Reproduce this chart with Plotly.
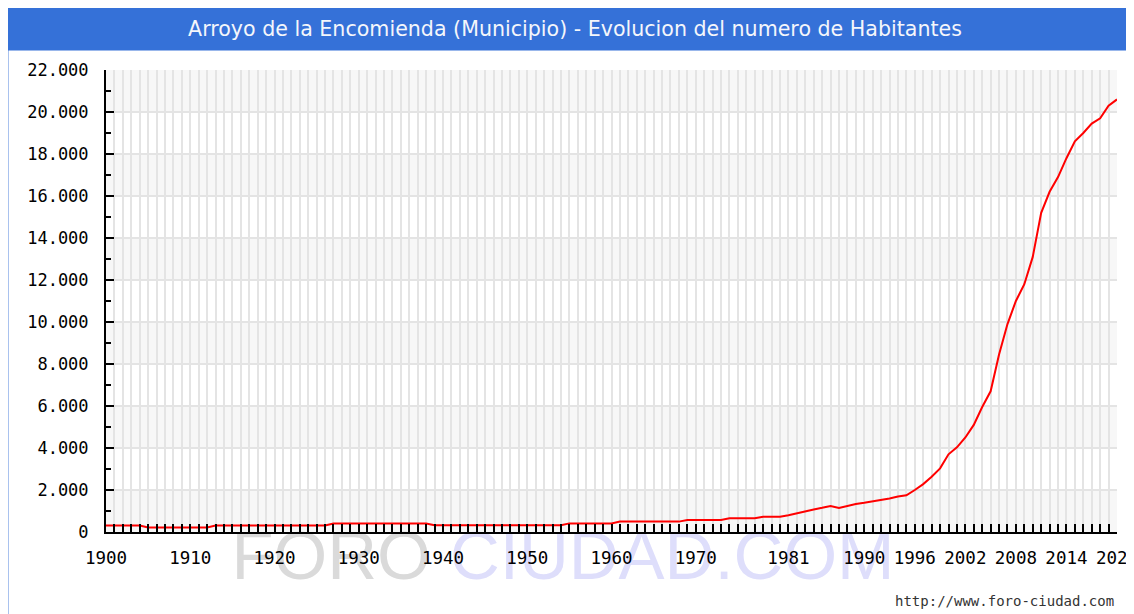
import plotly.graph_objects as go

# ---------------- data ----------------
years = list(range(1900, 2021))
population = (
    [310] * 5 +      # 1900-1904
    [220] * 8 +      # 1905-1912
    [310] * 14 +     # 1913-1926
    [405] * 12 +     # 1927-1938
    [320] * 16 +     # 1939-1954
    [410] * 6 +      # 1955-1960
    [495] * 8 +      # 1961-1968
    [570] * 5 +      # 1969-1973
    [650] * 4 +      # 1974-1977
    [730] * 3 +      # 1978-1980
    [800, 900, 1000, 1070, 1150, 1240, 1140, 1250, 1330, 1390,          # 1981-1990
     1455, 1520, 1600, 1690, 1750, 2000, 2280, 2630, 3030, 3700,        # 1991-2000
     4030, 4500, 5100, 5950, 6700, 8450, 9900, 11000, 11800, 13100,     # 2001-2010
     15200, 16200, 16900, 17800, 18600, 19000, 19450, 19700, 20300, 20600]  # 2011-2020
)
x_tick_years = [1900, 1910, 1920, 1930, 1940, 1950, 1960, 1970, 1981, 1990, 1996, 2002, 2008, 2014, 2020]
x_tick_labels = [str(y) for y in x_tick_years]
y_tick_values = list(range(0, 22001, 2000))
y_tick_labels = [f"{v:,}".replace(",", ".") for v in y_tick_values]

title_text = "Arroyo de la Encomienda (Municipio) - Evolucion del numero de Habitantes"
url_text = "http://www.foro-ciudad.com"

# ---------------- layout geometry (figure pixels) ----------------
W, H = 1134, 614
L, R, T, B = 98, 25, 62, 90
PW, PH = W - L - R, H - T - B


def px(x):
    return (x - L) / PW


def py(y):
    return (H - B - y) / PH


GRID = "#e4e4e4"
MONO = "DejaVu Sans Mono"

fig = go.Figure()
fig.add_trace(go.Scatter(
    x=years, y=population, mode="lines",
    line=dict(color="#ff0000", width=2),
    hoverinfo="skip", showlegend=False,
))

shapes = []
# alternating horizontal bands
for i in range(len(y_tick_values) - 1):
    if i % 2 == 0:
        shapes.append(dict(type="rect", xref="paper", yref="y", x0=0, x1=1,
                           y0=y_tick_values[i], y1=y_tick_values[i + 1],
                           fillcolor="#f7f7f7", line=dict(width=0), layer="below"))
# outer border
shapes.append(dict(type="rect", xref="paper", yref="paper",
                   x0=px(0.5), x1=px(W + 10), y0=py(H + 10), y1=py(0.5),
                   fillcolor="rgba(0,0,0,0)", line=dict(color="#a9c2ee", width=1), layer="below"))
# title bar
shapes.append(dict(type="rect", xref="paper", yref="paper",
                   x0=px(0), x1=px(W + 10), y0=py(42.5), y1=py(-1),
                   fillcolor="#3571d8", line=dict(width=0), layer="below"))
# watermark
shapes.append(dict(type="rect", xref="paper", yref="paper",
                   x0=px(195), x1=px(915), y0=py(580), y1=py(500),
                   fillcolor="rgba(0,0,0,0)", line=dict(width=0), layer="below",
                   label=dict(text="<span style='color:#dadada'>FORO</span> "
                                   "<span style='color:#dedefb'>CIUDAD.COM</span>",
                              font=dict(family="Liberation Sans", size=69, color="#dadada"),
                              textposition="middle center")))

fig.update_layout(
    width=W, height=H,
    margin=dict(l=L, r=R, t=T, b=B, autoexpand=False),
    paper_bgcolor="white", plot_bgcolor="white",
    shapes=shapes,
    showlegend=False,
    hovermode=False,
    title=dict(text=title_text, x=567 / W, xanchor="center", xref="container",
               y=1 - 21 / H, yanchor="middle", yref="container",
               font=dict(family="DejaVu Sans", size=20.6, color="#f4f6fb")),
    annotations=[dict(text=url_text, xref="paper", yref="paper",
                      x=px(1108), y=py(593), xanchor="right", yanchor="middle",
                      showarrow=False, font=dict(family=MONO, size=14, color="#333333"))],
    xaxis=dict(
        range=[1900, 2020], tickmode="array", tickvals=x_tick_years, ticktext=x_tick_labels,
        ticks="inside", ticklen=8, tickwidth=2, tickcolor="black",
        showline=True, linecolor="black", linewidth=2,
        showgrid=True, gridcolor=GRID, gridwidth=2, zeroline=False,
        tickfont=dict(family=MONO, size=17.5, color="black"),
        ticklabelstandoff=9, ticklabeloverflow="allow", automargin=False, fixedrange=True,
        minor=dict(tickmode="linear", tick0=1900, dtick=1, ticks="inside", ticklen=8,
                   tickwidth=2, tickcolor="black", showgrid=True, gridcolor=GRID, gridwidth=2),
    ),
    yaxis=dict(
        range=[0, 22000], tickmode="array", tickvals=y_tick_values, ticktext=y_tick_labels,
        ticks="inside", ticklen=8, tickwidth=2, tickcolor="black",
        showline=True, linecolor="black", linewidth=2,
        showgrid=True, gridcolor=GRID, gridwidth=2, zeroline=False,
        tickfont=dict(family=MONO, size=17, color="black"),
        ticklabelstandoff=12, ticklabeloverflow="allow", automargin=False, fixedrange=True,
        minor=dict(tickmode="linear", tick0=0, dtick=1000, ticks="inside", ticklen=5,
                   tickwidth=2, tickcolor="black", showgrid=False),
    ),
)

fig.write_html("out.html", config={"displayModeBar": False})
